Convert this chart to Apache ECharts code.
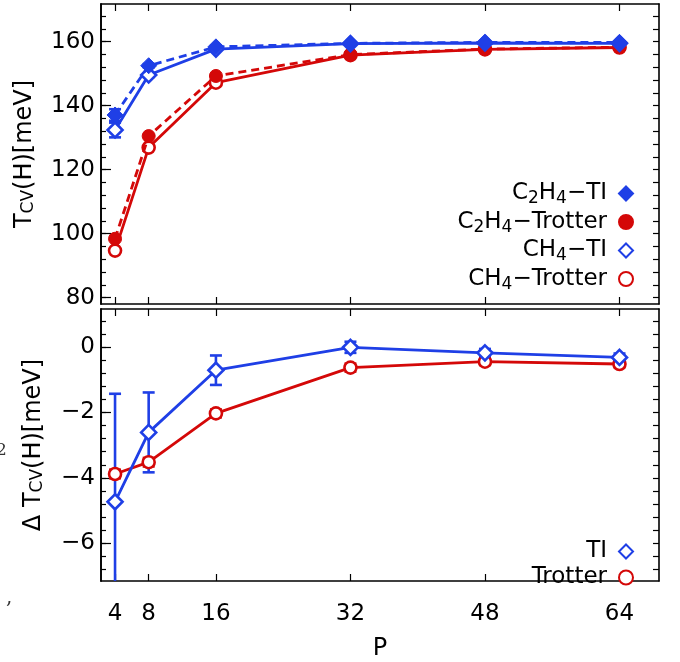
<!DOCTYPE html>
<html>
<head>
<meta charset="utf-8">
<script src="https://cdn.jsdelivr.net/npm/echarts@6/dist/echarts.min.js"></script>
<style>
html,body{margin:0;padding:0;background:#fff;}
#chart{width:680px;height:662px;}
</style>
</head>
<body>
<div id="chart"></div>
<script>
// ---- data ----
const P = [4, 8, 16, 32, 48, 64];
const xTicks = [4, 8, 16, 32, 48, 64];
const topYTicks = [80, 100, 120, 140, 160];
const botYTicks = [-6, -4, -2, 0];

const c2h4TI      = [137.1, 152.5, 158.4, 159.5, 159.8, 159.8];
const c2h4TIErr   = [1.8, 0.5, 0.4, 0.3, 0.3, 0.3];
const c2h4Trotter = [98.4, 130.5, 149.3, 156.0, 157.7, 158.3];
const ch4TI       = [132.4, 149.6, 157.7, 159.4, 159.6, 159.5];
const ch4TIErr    = [2.3, 0.6, 0.4, 0.3, 0.3, 0.3];
const ch4Trotter  = [94.7, 126.9, 147.2, 155.8, 157.6, 158.2];

const deltaTI         = [-4.73, -2.61, -0.71, -0.01, -0.18, -0.32];
const deltaTIErr      = [3.3, 1.22, 0.45, 0.17, 0.12, 0.12];
const deltaTrotter    = [-3.88, -3.52, -2.03, -0.63, -0.45, -0.52];
const deltaTrotterErr = [0.13, 0.13, 0.12, 0.12, 0.1, 0.1];

// ---- style ----
const BLUE = '#1f3fe6';
const RED = '#d40808';
const FONT = 'DejaVu Sans';

function pairs(ys) { return P.map((p, i) => [p, ys[i]]); }
function triples(ys, es) { return P.map((p, i) => [p, ys[i], es[i]]); }
function range(a, b, s) { const r = []; for (let v = a; v <= b + 1e-9; v += s) r.push(+v.toFixed(3)); return r; }

const topMinor = range(80, 168, 4);
const botMinor = range(-6.8, 0.8, 0.4);

const xMin = 2.33, xMax = 68.7;
const frame = { show: true, onZero: false, lineStyle: { color: '#000', width: 1.6 } };

function xAx(grid, pos, labels) {
  return {
    type: 'value', gridIndex: grid, position: pos, min: xMin, max: xMax,
    axisLine: frame,
    axisTick: { show: true, inside: true, length: 7, customValues: xTicks, lineStyle: { color: '#000', width: 1.2 } },
    axisLabel: labels ? { show: true, customValues: xTicks, margin: 22, color: '#000', fontSize: 23, fontFamily: FONT } : { show: false },
    splitLine: { show: false },
    name: labels ? 'P' : '', nameLocation: 'middle', nameGap: 56,
    nameTextStyle: { color: '#000', fontSize: 24, fontFamily: FONT }
  };
}
function fmtNum(v) { return v < 0 ? '\u2212' + Math.abs(v) : String(v); }
function yAx(grid, pos, min, max, ticks, len, labels, name, gap) {
  return {
    type: 'value', gridIndex: grid, position: pos, min: min, max: max,
    axisLine: frame,
    axisTick: { show: true, inside: true, length: len, customValues: ticks, lineStyle: { color: '#000', width: 1.2 } },
    axisLabel: labels ? { show: true, customValues: ticks, margin: 6, color: '#000', fontSize: 23, fontFamily: FONT, formatter: fmtNum } : { show: false },
    splitLine: { show: false },
    name: name || '', nameLocation: 'middle', nameRotate: 90, nameGap: gap || 60,
    nameTextStyle: { color: '#000', fontSize: 24, fontFamily: FONT,
      rich: { n: { fontSize: 24, fontFamily: FONT, color: '#000' }, s: { fontSize: 17, fontFamily: FONT, color: '#000', verticalAlign: 'bottom', lineHeight: 18 } } }
  };
}

function errSeries(name, xi, yi, data, color, z) {
  return {
    type: 'custom', name: name, xAxisIndex: xi, yAxisIndex: yi, clip: true, z: z,
    encode: { x: 0, y: 1 },
    data: data,
    renderItem: function (params, api) {
      const x = api.value(0), y = api.value(1), e = api.value(2);
      const t = api.coord([x, y + e]);
      const b = api.coord([x, y - e]);
      const hw = 6;
      const st = { stroke: color, lineWidth: 2.6, fill: null };
      return { type: 'group', children: [
        { type: 'line', shape: { x1: t[0], y1: t[1], x2: b[0], y2: b[1] }, style: st },
        { type: 'line', shape: { x1: t[0] - hw, y1: t[1], x2: t[0] + hw, y2: t[1] }, style: st },
        { type: 'line', shape: { x1: b[0] - hw, y1: b[1], x2: b[0] + hw, y2: b[1] }, style: st }
      ] };
    }
  };
}

function lineSeries(name, xi, yi, data, color, dashed, symbol, size, filled, z) {
  return {
    type: 'line', name: name, xAxisIndex: xi, yAxisIndex: yi, data: data, z: z,
    symbol: symbol, symbolSize: size, showAllSymbol: true,
    lineStyle: { color: color, width: 2.8, type: dashed ? [8, 5] : 'solid' },
    itemStyle: filled ? { color: color, borderColor: color, borderWidth: 1 } : { color: '#fff', borderColor: color, borderWidth: 2.6 },
    emphasis: { disabled: true }
  };
}

const legendRich = {
  n: { fontSize: 23, fontFamily: FONT, color: '#000', lineHeight: 24 },
  e: { fontSize: 23, fontFamily: FONT, color: '#000', lineHeight: 24, padding: [0, 7, 0, 0] },
  s: { fontSize: 17, fontFamily: FONT, color: '#000', verticalAlign: 'bottom', lineHeight: 16, padding: [0, 0, -2, 0] }
};
const legendLabels = {
  'C2H4-TI': '{n|C}{s|2}{n|H}{s|4}{e|\u2212TI}',
  'C2H4-Trotter': '{n|C}{s|2}{n|H}{s|4}{e|\u2212Trotter}',
  'CH4-TI': '{n|CH}{s|4}{e|\u2212TI}',
  'CH4-Trotter': '{n|CH}{s|4}{e|\u2212Trotter}',
  'TI': '{e|TI}',
  'Trotter': '{e|Trotter}'
};

const option = {
  animation: false,
  backgroundColor: '#fff',
  grid: [
    { left: 101, top: 4, width: 558, height: 300 },
    { left: 101, top: 309, width: 558, height: 284 }
  ],
  xAxis: [
    xAx(0, 'bottom', false), xAx(0, 'top', false),
    xAx(1, 'bottom', true), xAx(1, 'top', false)
  ],
  yAxis: [
    yAx(0, 'left', 78, 171.8, topYTicks, 10, true, '{n|T}{s|CV}{n|(H)[meV]}', 64),
    yAx(0, 'left', 78, 171.8, topMinor, 5, false),
    yAx(0, 'right', 78, 171.8, topMinor, 6, false),
    yAx(1, 'left', -7.15, 1.16, botYTicks, 10, true, '{n|\u0394 T}{s|CV}{n|(H)[meV]}', 55),
    yAx(1, 'left', -7.15, 1.16, botMinor, 5, false),
    yAx(1, 'right', -7.15, 1.16, botMinor, 6, false)
  ],
  legend: [
    {
      orient: 'vertical', right: 41, top: 177, align: 'right', itemGap: 3,
      itemWidth: 14, itemHeight: 14, selectedMode: false,
      data: [
        { name: 'C2H4-TI', icon: 'diamond' },
        { name: 'C2H4-Trotter', icon: 'circle' },
        { name: 'CH4-TI', icon: 'diamond' },
        { name: 'CH4-Trotter', icon: 'circle' }
      ],
      formatter: n => legendLabels[n],
      textStyle: { rich: legendRich }
    },
    {
      orient: 'vertical', right: 41, top: 535, align: 'right', itemGap: 3,
      itemWidth: 14, itemHeight: 14, selectedMode: false,
      data: [
        { name: 'TI', icon: 'diamond' },
        { name: 'Trotter', icon: 'circle' }
      ],
      formatter: n => legendLabels[n],
      textStyle: { rich: legendRich }
    }
  ],
  graphic: [
    { type: 'text', left: -4, top: 442, style: { text: '2', fontSize: 17, fontFamily: 'DejaVu Serif', fill: '#333' } },
    { type: 'text', left: 6, top: 588, style: { text: ',', fontSize: 20, fontFamily: 'DejaVu Serif', fill: '#333' } }
  ],
  series: [
    errSeries('errCH4TI', 0, 0, triples(ch4TI, ch4TIErr), BLUE, 1),
    errSeries('errC2H4TI', 0, 0, triples(c2h4TI, c2h4TIErr), BLUE, 1),
    lineSeries('CH4-Trotter', 0, 0, pairs(ch4Trotter), RED, false, 'circle', 12, false, 2),
    lineSeries('C2H4-Trotter', 0, 0, pairs(c2h4Trotter), RED, true, 'circle', 13, true, 3),
    lineSeries('CH4-TI', 0, 0, pairs(ch4TI), BLUE, false, 'diamond', 15, false, 4),
    lineSeries('C2H4-TI', 0, 0, pairs(c2h4TI), BLUE, true, 'diamond', 16, true, 5),

    errSeries('errTrotter', 2, 3, triples(deltaTrotter, deltaTrotterErr), RED, 1),
    errSeries('errTI', 2, 3, triples(deltaTI, deltaTIErr), BLUE, 1),
    lineSeries('Trotter', 2, 3, pairs(deltaTrotter), RED, false, 'circle', 12, false, 2),
    lineSeries('TI', 2, 3, pairs(deltaTI), BLUE, false, 'diamond', 15, false, 3)
  ]
};

const chart = echarts.init(document.getElementById('chart'), null, { renderer: 'canvas' });
chart.setOption(option);
</script>
</body>
</html>
